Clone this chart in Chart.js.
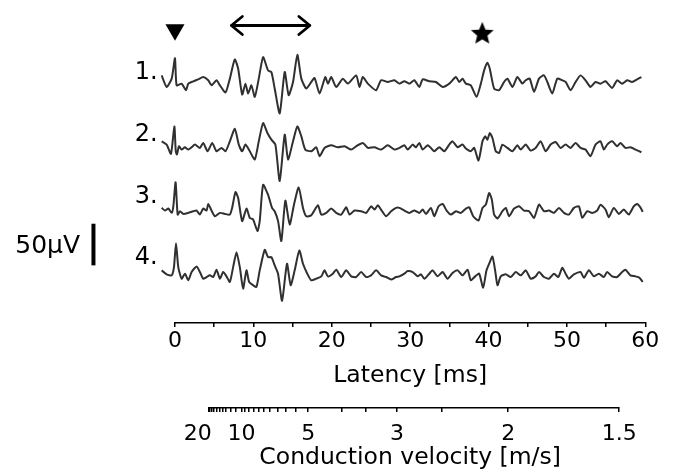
<!DOCTYPE html>
<html>
<head>
<meta charset="utf-8">
<script src="https://cdn.jsdelivr.net/npm/chart.js@4.4.1/dist/chart.umd.min.js"></script>
<style>
  html, body { margin: 0; padding: 0; background: #fff; }
</style>
</head>
<body>
<canvas id="chart" width="674" height="476"></canvas>
<script>
// four sweeps, [latency ms, amplitude µV]
const trace1 = [
  [-1.70,9.1],[-1.06,-4.8],[-0.42,5.2],[0,29.8],[0.21,-2.8],[0.85,-0.8],[1.40,-8.7],[1.70,-0.8],[2.33,2.0],[2.97,4.4],
  [3.60,7.1],[4.24,3.2],[4.66,-2.8],[5.30,3.2],[5.73,-2.8],[6.45,-11.5],[7.00,5.2],[7.63,28.2],[8.06,17.1],[8.57,-13.9],
  [8.99,-0.8],[9.33,-12.7],[9.75,-2.8],[10.18,-16.7],[10.69,5.2],[11.24,31.0],[11.87,15.1],[12.30,13.1],[12.72,-6.7],[13.36,-36.5],
  [14.00,13.1],[14.50,-14.7],[15.06,1.2],[15.61,33.7],[16.12,5.2],[16.75,-6.7],[17.39,1.2],[17.81,6.0],[18.45,-12.7],[19.17,7.1],
  [19.51,-0.8],[19.93,7.1],[20.57,-4.8],[21.42,5.2],[22.05,-0.8],[23.11,9.1],[23.54,-4.8],[23.96,7.1],[24.60,-0.8],[25.66,-8.7],
  [26.29,3.2],[27.14,1.2],[27.99,3.2],[28.63,-0.8],[29.26,2.0],[29.90,-0.8],[30.53,3.2],[31.17,-4.8],[31.60,4.4],[32.44,2.0],
  [33.29,1.2],[34.14,-4.8],[34.99,-0.8],[35.84,7.1],[36.26,1.2],[36.68,5.2],[37.11,-0.8],[37.74,-2.8],[38.47,-16.7],[39.02,-0.8],
  [39.44,15.1],[39.86,24.2],[40.16,17.1],[40.71,-6.7],[41.35,-8.7],[41.98,1.2],[42.41,5.2],[43.05,-4.8],[43.68,7.1],[44.32,-0.8],
  [44.74,3.2],[45.25,5.2],[45.80,-10.7],[46.44,5.2],[47.07,9.1],[47.50,1.2],[48.13,-12.7],[48.77,5.2],[49.41,3.2],[49.83,1.2],
  [50.47,-8.7],[51.10,1.2],[51.74,9.1],[52.37,3.2],[53.01,-4.8],[53.65,1.2],[54.28,-0.8],[54.92,2.0],[55.77,-6.0],[56.40,3.2],
  [57.04,-0.8],[57.68,3.2],[58.31,1.2],[58.95,4.4],[59.50,7.1]
];
const trace2 = [
  [-1.70,7.9],[-1.06,4.0],[-0.51,-7.1],[-0.08,25.8],[0.10,-4.0],[0.25,-7.9],[0.51,2.0],[0.85,-2.0],[1.27,0.8],[1.70,-2.0],
  [2.12,0.8],[2.54,4.0],[3.18,0],[3.60,6.0],[4.16,-4.0],[4.75,6.0],[5.30,-4.0],[5.94,0],[6.45,-4.0],[7.00,7.9],
  [7.63,23.0],[8.14,4.0],[8.57,-4.0],[8.99,4.0],[9.54,-4.0],[10.18,-13.9],[10.69,7.9],[11.24,29.8],[11.79,17.9],[12.30,9.9],
  [12.81,4.0],[13.36,-39.7],[14.00,15.9],[14.42,-13.9],[15.06,7.9],[15.61,25.8],[16.12,13.9],[16.62,-2.0],[17.39,-4.0],[18.02,0.8],
  [18.45,-9.9],[19.08,0],[19.93,3.2],[20.78,0.8],[21.63,2.0],[22.48,-2.0],[23.11,2.0],[23.96,6.0],[24.60,0],[25.45,0.8],
  [26.29,-2.0],[27.14,3.2],[27.99,-2.0],[28.63,0],[29.26,3.2],[29.69,-2.0],[30.32,4.0],[30.74,0.8],[31.17,6.0],[31.60,-2.0],
  [32.23,3.2],[32.65,0],[33.08,-4.0],[33.72,0.8],[34.35,-4.0],[34.99,4.0],[35.41,7.9],[36.05,0.8],[36.68,4.0],[37.11,-0.8],
  [37.74,-4.0],[38.17,0],[38.72,-15.1],[39.23,7.9],[39.57,13.9],[39.86,9.9],[40.16,17.9],[40.50,11.9],[40.92,-4.0],[41.35,-6.0],
  [41.77,4.0],[42.41,0],[43.05,-4.0],[43.68,3.2],[44.11,-2.0],[44.74,4.0],[45.38,-3.2],[46.01,0],[46.65,7.9],[47.29,-4.0],
  [47.92,4.0],[48.56,7.1],[49.19,0],[49.83,4.0],[50.47,0],[51.10,6.0],[51.74,0],[52.37,-2.0],[53.01,-9.9],[53.65,4.0],
  [54.28,7.9],[54.71,-2.0],[55.13,4.0],[55.77,7.9],[56.40,2.0],[56.83,6.0],[57.46,0],[58.10,0.8],[58.74,-2.0],[59.50,-5.2]
];
const trace3 = [
  [-1.70,6.0],[-1.27,2.8],[-0.85,5.2],[-0.42,0],[-0.21,7.9],[0.08,36.9],[0.34,-2.0],[0.64,2.0],[1.06,-1.2],[1.70,0],
  [2.33,2.0],[2.76,2.8],[3.18,-2.0],[3.60,5.2],[4.03,2.8],[4.24,10.7],[4.66,2.8],[5.09,-4.0],[5.73,0],[6.36,-1.2],
  [7.00,-2.0],[7.29,6.0],[7.72,25.0],[8.06,17.9],[8.57,-9.9],[9.12,5.2],[9.54,-6.0],[9.97,-7.9],[10.52,-21.8],[10.81,-9.9],
  [11.24,33.7],[11.87,21.8],[12.38,6.0],[12.72,2.0],[13.15,-9.9],[13.57,-33.7],[14.08,14.7],[14.63,-13.9],[15.18,9.9],[15.78,30.6],
  [16.33,6.0],[16.75,-4.0],[17.39,-2.8],[18.24,9.1],[18.66,-2.0],[19.30,0],[19.93,5.2],[20.57,0],[21.20,-2.0],[21.84,6.7],
  [22.26,-2.0],[22.90,2.8],[23.75,2.0],[24.39,0],[25.02,7.9],[25.45,4.0],[25.87,9.1],[26.29,4.0],[26.93,-4.0],[27.57,2.0],
  [28.20,6.0],[28.63,6.0],[29.26,2.8],[29.90,0],[30.53,2.8],[31.17,0],[31.60,4.0],[32.02,-1.2],[32.65,6.0],[33.08,-4.0],
  [33.63,7.9],[34.14,10.7],[34.65,2.8],[35.20,-2.0],[35.84,2.0],[36.47,0],[37.11,5.2],[37.53,6.7],[38.04,-4.0],[38.72,-9.1],
  [39.23,6.0],[39.65,9.9],[40.08,23.8],[40.42,15.9],[40.71,-2.0],[41.14,-6.7],[41.77,2.0],[42.20,6.0],[42.62,-4.0],[43.26,5.2],
  [43.89,7.9],[44.53,2.8],[45.17,2.0],[45.80,-6.0],[46.44,9.9],[47.07,2.0],[47.71,2.8],[48.35,0],[48.98,6.0],[49.62,0],
  [50.25,-2.0],[50.89,6.0],[51.53,7.9],[51.95,-6.0],[52.59,2.0],[53.22,0],[53.86,2.8],[54.28,9.9],[54.92,4.0],[55.34,-5.2],
  [55.98,6.0],[56.62,-1.2],[57.25,4.0],[57.89,-2.0],[58.52,7.9],[58.95,10.7],[59.37,6.7],[59.67,1.2]
];
const trace4 = [
  [-1.70,4.0],[-1.06,-0.8],[-0.42,-2.0],[-0.13,7.9],[0.13,36.5],[0.42,7.9],[0.85,-6.0],[1.27,0],[1.70,-7.9],[2.12,2.0],
  [2.76,8.7],[3.18,2.0],[3.60,-6.0],[4.03,-4.0],[4.45,-2.0],[4.88,-4.0],[5.30,4.8],[5.73,-6.0],[6.15,2.0],[6.57,-3.2],
  [7.00,-9.9],[7.42,7.9],[7.85,25.8],[8.27,7.9],[8.69,-17.9],[9.12,4.0],[9.46,-9.9],[9.97,-13.9],[10.39,-15.9],[10.81,4.0],
  [11.45,28.6],[11.87,19.8],[12.30,19.8],[12.72,9.9],[13.15,0],[13.66,-32.5],[14.29,11.9],[14.76,-13.9],[15.27,4.0],[15.86,27.8],
  [16.33,11.9],[16.88,0],[17.39,-7.9],[18.02,-6.0],[18.66,-3.2],[19.08,4.0],[19.51,-3.2],[20.14,0],[20.57,4.8],[21.20,-4.0],
  [21.84,4.0],[22.48,-3.2],[23.11,-4.0],[23.75,2.0],[24.39,-4.0],[25.02,-2.0],[25.66,4.0],[26.29,-2.0],[26.93,-4.0],[27.57,-7.1],
  [28.20,-4.0],[28.63,-3.2],[29.26,0],[29.69,3.2],[30.32,2.0],[30.96,-3.2],[31.38,-0.8],[31.81,-6.0],[32.44,0],[32.87,4.0],
  [33.50,-3.2],[34.14,2.0],[34.77,-6.0],[35.41,0.8],[36.05,4.0],[36.68,-2.0],[37.32,4.8],[37.74,-7.9],[38.30,-3.2],[38.80,0],
  [39.31,-16.7],[39.74,4.0],[40.16,13.9],[40.50,20.6],[40.84,4.0],[41.14,-13.9],[41.56,-3.2],[42.20,-0.8],[42.83,-4.0],[43.47,2.0],
  [44.11,-2.0],[44.74,4.0],[45.38,-6.0],[46.01,-3.2],[46.44,2.0],[47.07,-4.0],[47.71,-6.0],[48.35,0],[48.90,-4.0],[49.41,7.1],
  [49.83,0],[50.25,-6.0],[50.89,-0.8],[51.74,2.0],[52.16,-4.8],[52.80,4.0],[53.43,-3.2],[54.07,0],[54.71,-4.0],[55.13,2.0],
  [55.77,-3.2],[56.40,-4.0],[57.04,2.0],[57.46,4.8],[58.10,-2.0],[58.74,-3.2],[59.25,-4.8],[59.67,-9.9]
];

const traceNames = ["1.", "2.", "3.", "4."];
const latencyTicks = [0, 5, 10, 15, 20, 25, 30, 35, 40, 45, 50, 55, 60];
const latencyLabels = [0, 10, 20, 30, 40, 50, 60];
// conduction distance (mm) -> velocity = distance / latency
const distanceMm = 85;
const velocityTicks = [20, 19, 18, 17, 16, 15, 14, 13, 12, 11, 10, 9.5, 9, 8.5, 8, 7.5, 7, 6.5, 6, 5.5, 5, 4, 3.5, 3, 2.5, 2, 1.5];
const velocityLabels = [20, 10, 5, 3, 2, 1.5];
const stimulusLatency = [0];
const starLatency = [39.2];
const arrowRange = [7.0, 17.4];
const scaleBarUv = 50;

// display settings
const FONT = "'DejaVu Sans', sans-serif";
const traceOffsets = [287, 209, 131, 58];
const labelShift = [-10, -13, -16, -16];
const markerLevel = 351;
const starLevel = 346;
const arrowLevel = 356;
const scaleBarBase = 68;

function starImage(r) {
  const c = document.createElement("canvas");
  c.width = c.height = Math.ceil(r * 2 + 2);
  const g = c.getContext("2d");
  const cx = c.width / 2, cy = c.height / 2;
  g.beginPath();
  for (let k = 0; k < 10; k++) {
    const rr = k % 2 ? r * 0.45 : r;
    const a = -Math.PI / 2 + k * Math.PI / 5;
    g.lineTo(cx + rr * Math.cos(a), cy + rr * Math.sin(a));
  }
  g.closePath();
  g.fillStyle = "#000";
  g.fill();
  return c;
}

const datasets = [trace1, trace2, trace3, trace4].map((tr, i) => ({
  label: traceNames[i],
  data: tr.map(p => ({ x: p[0], y: p[1] + traceOffsets[i] })),
  borderColor: "#303030",
  borderWidth: 2,
  pointRadius: 0,
  tension: 0.2,
  borderJoinStyle: "round",
  clip: false
}));

datasets.push({
  type: "scatter",
  data: stimulusLatency.map(t => ({ x: t, y: markerLevel })),
  pointStyle: "triangle",
  rotation: 180,
  pointRadius: 11,
  backgroundColor: "#000",
  borderWidth: 0,
  clip: false
});
datasets.push({
  type: "scatter",
  data: starLatency.map(t => ({ x: t, y: starLevel })),
  pointStyle: starImage(12),
  pointRadius: 12,
  clip: false
});

const tickGrid = {
  display: true,
  drawOnChartArea: false,
  drawTicks: true,
  tickLength: 5,
  color: "#000",
  lineWidth: 1.5
};

const decor = {
  id: "decor",
  afterDraw(chart) {
    const { ctx, chartArea, scales } = chart;
    const x = scales.x, v = scales.v, y = scales.y;
    ctx.save();
    ctx.strokeStyle = "#000";
    ctx.fillStyle = "#000";

    // axis lines
    ctx.lineWidth = 1.5;
    ctx.beginPath();
    ctx.moveTo(x.getPixelForValue(latencyTicks[0]), chartArea.bottom + 0.75);
    ctx.lineTo(x.getPixelForValue(latencyTicks[latencyTicks.length - 1]), chartArea.bottom + 0.75);
    ctx.moveTo(v.getPixelForValue(distanceMm / velocityTicks[0]), v.top + 0.75);
    ctx.lineTo(v.getPixelForValue(distanceMm / velocityTicks[velocityTicks.length - 1]), v.top + 0.75);
    ctx.stroke();

    // double arrow
    const ay = y.getPixelForValue(arrowLevel);
    const a1 = x.getPixelForValue(arrowRange[0]) + 1.5;
    const a2 = x.getPixelForValue(arrowRange[1]) - 1.5;
    ctx.lineWidth = 2.8;
    ctx.lineCap = "round";
    ctx.lineJoin = "round";
    ctx.beginPath();
    ctx.moveTo(a1, ay); ctx.lineTo(a2, ay);
    ctx.moveTo(a1 + 11, ay - 9); ctx.lineTo(a1, ay); ctx.lineTo(a1 + 11, ay + 9);
    ctx.moveTo(a2 - 11, ay - 9); ctx.lineTo(a2, ay); ctx.lineTo(a2 - 11, ay + 9);
    ctx.stroke();

    // sweep numbers
    ctx.font = "24px " + FONT;
    ctx.textAlign = "right";
    ctx.textBaseline = "middle";
    traceNames.forEach((n, i) => {
      ctx.fillText(n, x.getPixelForValue(-2.2), y.getPixelForValue(traceOffsets[i]) + labelShift[i]);
    });

    // 50 µV scale bar
    const bx = x.getPixelForValue(-10.4);
    ctx.lineWidth = 4;
    ctx.lineCap = "butt";
    ctx.beginPath();
    ctx.moveTo(bx, y.getPixelForValue(scaleBarBase));
    ctx.lineTo(bx, y.getPixelForValue(scaleBarBase + scaleBarUv));
    ctx.stroke();
    ctx.font = "25px " + FONT;
    ctx.fillText(scaleBarUv + "µV", x.getPixelForValue(-12.1), y.getPixelForValue(scaleBarBase + scaleBarUv / 2) + 2);
    ctx.restore();
  }
};

new Chart(document.getElementById("chart"), {
  type: "line",
  data: { datasets },
  options: {
    responsive: false,
    animation: false,
    layout: { padding: { left: 159.3, right: 11.7, top: 10, bottom: 0 } },
    plugins: { legend: { display: false }, tooltip: { enabled: false } },
    scales: {
      x: {
        type: "linear",
        position: "bottom",
        weight: 1,
        min: -2,
        max: 62,
        afterBuildTicks: s => { s.ticks = latencyTicks.map(t => ({ value: t })); },
        afterFit: s => { s.height = 85; },
        grid: tickGrid,
        border: { display: false },
        ticks: {
          autoSkip: false, maxRotation: 0, minRotation: 0, padding: 1, color: "#000",
          font: { family: FONT, size: 22 },
          callback: val => latencyLabels.includes(val) ? String(val) : ""
        },
        title: {
          display: true, text: "Latency [ms]", color: "#000",
          font: { family: FONT, size: 23.5 }, padding: { top: 0, bottom: 17 }
        }
      },
      v: {
        type: "linear",
        position: "bottom",
        weight: 2,
        min: -2,
        max: 62,
        afterBuildTicks: s => { s.ticks = velocityTicks.map(vel => ({ value: distanceMm / vel })); },
        afterFit: s => { s.height = 69; },
        grid: tickGrid,
        border: { display: false },
        ticks: {
          autoSkip: false, maxRotation: 0, minRotation: 0, padding: 9, color: "#000",
          font: { family: FONT, size: 22 },
          callback: (val, i) => {
            const vel = velocityTicks[i];
            if (!velocityLabels.includes(vel)) return "";
            return vel === 20 ? "20   " : String(vel);
          }
        },
        title: {
          display: true, text: "Conduction velocity [m/s]", color: "#000",
          font: { family: FONT, size: 23.5 }, padding: { top: 0, bottom: 4 }
        }
      },
      y: { type: "linear", display: false, min: 0, max: 371 }
    }
  },
  plugins: [decor]
});
</script>
</body>
</html>
